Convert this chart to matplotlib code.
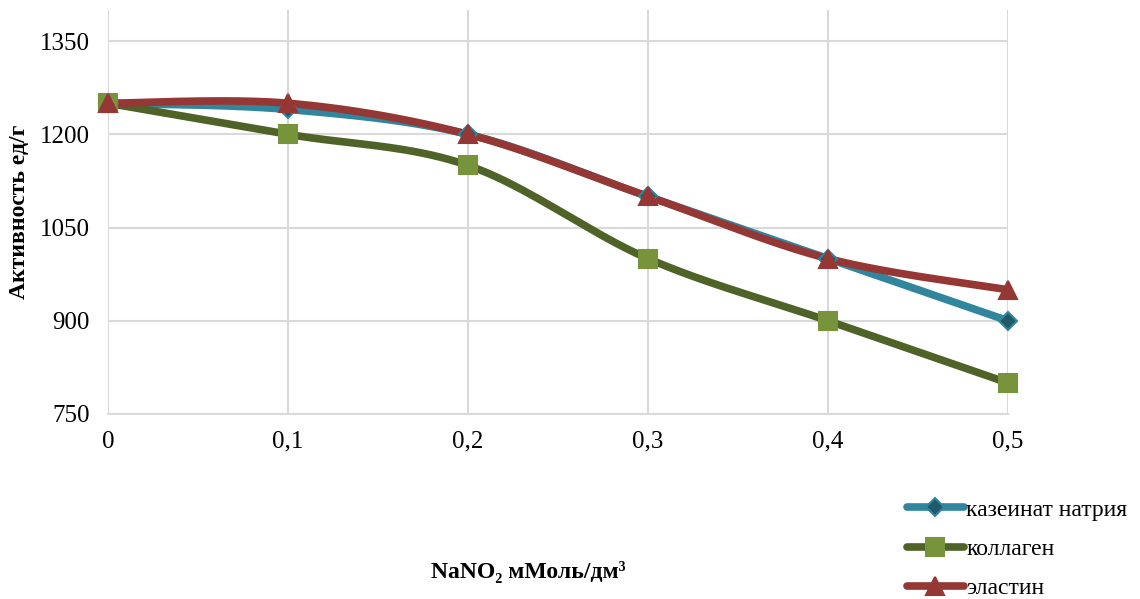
import matplotlib
matplotlib.use('Agg')
import matplotlib.pyplot as plt
import numpy as np

plt.rcParams['font.family'] = ['Liberation Serif', 'DejaVu Serif']

# данные
x_labels = ['0', '0,1', '0,2', '0,3', '0,4', '0,5']
x = np.array([0, 0.1, 0.2, 0.3, 0.4, 0.5])
kazeinat = [1250, 1240, 1200, 1100, 1000, 900]
kollagen = [1250, 1200, 1150, 1000, 900, 800]
elastin = [1250, 1250, 1200, 1100, 1000, 950]


def smooth(xs, ys, n=40):
    # сглаживание как в Excel (кривые Безье, Catmull-Rom)
    xs = np.asarray(xs, float)
    ys = np.asarray(ys, float)
    px, py = [], []
    k = len(xs)
    for i in range(k - 1):
        x0, y0 = (xs[i - 1], ys[i - 1]) if i > 0 else (xs[i], ys[i])
        x1, y1 = xs[i], ys[i]
        x2, y2 = xs[i + 1], ys[i + 1]
        x3, y3 = (xs[i + 2], ys[i + 2]) if i + 2 < k else (x2, y2)
        c1x, c1y = x1 + (x2 - x0) / 6, y1 + (y2 - y0) / 6
        c2x, c2y = x2 - (x3 - x1) / 6, y2 - (y3 - y1) / 6
        t = np.linspace(0, 1, n)
        bx = (1-t)**3*x1 + 3*(1-t)**2*t*c1x + 3*(1-t)*t**2*c2x + t**3*x2
        by = (1-t)**3*y1 + 3*(1-t)**2*t*c1y + 3*(1-t)*t**2*c2y + t**3*y2
        px.extend(bx)
        py.extend(by)
    return px, py


fig = plt.figure(figsize=(11.4, 5.99), dpi=100)
ax = fig.add_axes([108/1140, 1 - 414/599, 900/1140, 404/599])

series = [
    ('казеинат натрия', kazeinat, '#31859C', 'D', '#215968', '#31859C', 9),
    ('коллаген', kollagen, '#4F6228', 's', '#77933C', '#77933C', 13),
    ('эластин', elastin, '#953735', '^', '#953735', '#953735', 13),
]
handles = []
for name, ys, col, mk, mfc, mec, ms in series:
    sx, sy = smooth(x, ys)
    ax.plot(sx, sy, color=col, lw=5.5, solid_capstyle='round', zorder=3,
            clip_on=False)
    ax.plot(x, ys, ls='none', marker=mk, ms=ms, mfc=mfc, mec=mec, mew=1.5,
            zorder=4, clip_on=False)
    h, = ax.plot([], [], color=col, lw=5.5, marker=mk, ms=ms, mfc=mfc, mec=mec,
                 mew=1.5, solid_capstyle='round')
    handles.append(h)

ax.set_xlim(0, 0.5)
ax.set_ylim(750, 1400)
ax.set_xticks(x)
ax.set_xticklabels(x_labels)
ax.set_yticks([750, 900, 1050, 1200, 1350])
ax.tick_params(length=0, labelsize=18, pad=12)
ax.tick_params(axis='y', pad=13)
ax.grid(True, color='#d9d9d9', lw=1.5)
for s in ax.spines.values():
    s.set_visible(False)
ax.spines['bottom'].set_visible(True)
ax.spines['bottom'].set_color('#d9d9d9')
ax.spines['bottom'].set_linewidth(1.5)
ax.set_axisbelow(True)

fig.text(20/1140, 1 - 212/599, 'Активность ед/г', rotation=90, fontsize=17,
         fontweight='bold', ha='center', va='center')
fig.text(528/1140, 1 - 572/599, 'NaNO₂ мМоль/дм³', fontsize=17,
         fontweight='bold', ha='center', va='center')

fig.legend(handles, [s[0] for s in series], loc='lower left',
           bbox_to_anchor=(900/1140, -0.012), frameon=False, fontsize=17,
           handlelength=2.4, handletextpad=0.1, labelspacing=0.75,
           borderaxespad=0.0, borderpad=0.3)

fig.savefig('out.png', dpi=100)
